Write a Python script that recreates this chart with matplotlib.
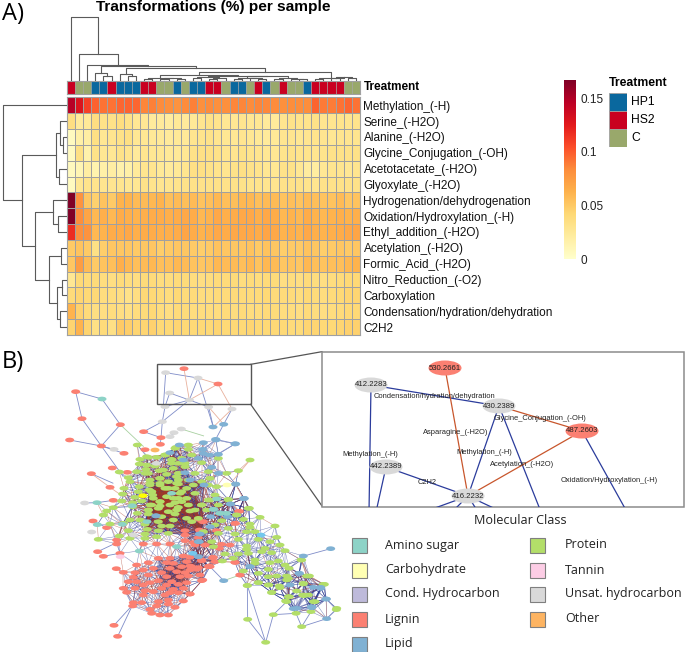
import numpy as np
import matplotlib
matplotlib.use("Agg")
import matplotlib.pyplot as plt
from matplotlib.collections import LineCollection
from matplotlib.patches import Ellipse, Rectangle

plt.rcParams['font.family'] = ['Liberation Sans', 'DejaVu Sans']

W, H = 685, 652

################## heatmap data
row_names = ["Methylation_(-H)", "Serine_(-H2O)", "Alanine_(-H2O)", "Glycine_Conjugation_(-OH)",
             "Acetotacetate_(-H2O)", "Glyoxylate_(-H2O)", "Hydrogenation/dehydrogenation",
             "Oxidation/Hydroxylation_(-H)", "Ethyl_addition_(-H2O)", "Acetylation_(-H2O)",
             "Formic_Acid_(-H2O)", "Nitro_Reduction_(-O2)", "Carboxylation",
             "Condensation/hydration/dehydration", "C2H2"]

# H = HP1, S = HS2, C = control
treatment = list("SCCHHSHHHSSCCHCHHSSCHHCSHCSCCHSSSSCC")

methylation = [.148,.130,.110,.098,.092,.092,.096,.097,.096,.086,.088,.084,.082,.080,.084,.088,.082,.084,.082,.082,.086,.086,.084,.086,.085,.084,.082,.083,.083,.083,.097,.090,.089,.092,.096,.092]
serine = [.036,.024,.025,.036,.033,.033,.037,.033,.027,.027,.023,.024,.022,.026,.024,.026,.030,.033,.031,.028,.028,.030,.027,.028,.024,.024,.030,.032,.031,.031,.033,.030,.030,.031,.030,.031]
alanine = [.006,.018,.020,.035,.028,.030,.033,.035,.027,.028,.026,.025,.024,.026,.025,.030,.031,.032,.030,.028,.027,.029,.028,.026,.024,.026,.029,.030,.028,.029,.031,.029,.028,.030,.029,.030]
glycine = [.006,.035,.016,.033,.028,.027,.032,.030,.024,.030,.028,.027,.025,.025,.028,.033,.034,.034,.033,.030,.030,.033,.031,.030,.027,.028,.031,.032,.031,.031,.030,.031,.032,.033,.032,.033]
acetotacetate = [.007,.012,.020,.015,.018,.020,.016,.018,.024,.030,.030,.026,.024,.026,.030,.034,.035,.033,.031,.030,.032,.034,.032,.031,.028,.028,.032,.033,.028,.022,.021,.027,.030,.030,.027,.030]
glyoxylate = [.006,.028,.031,.031,.030,.029,.030,.028,.028,.032,.031,.029,.030,.031,.032,.033,.032,.033,.033,.032,.032,.032,.031,.031,.030,.030,.032,.033,.032,.031,.030,.032,.032,.033,.032,.032]
hydrogenation = [.167,.080,.052,.046,.054,.050,.062,.062,.058,.058,.060,.062,.056,.058,.056,.058,.054,.056,.060,.056,.056,.060,.060,.056,.058,.058,.054,.056,.054,.058,.056,.054,.054,.058,.052,.054]
oxidation = [.167,.083,.070,.060,.064,.060,.066,.064,.062,.064,.066,.066,.064,.066,.068,.066,.060,.062,.068,.064,.066,.068,.068,.064,.068,.066,.060,.062,.060,.066,.062,.060,.062,.064,.062,.064]
ethyl = [.118,.082,.080,.060,.062,.066,.066,.068,.064,.066,.066,.064,.064,.066,.070,.066,.062,.064,.068,.066,.068,.068,.068,.066,.070,.068,.062,.064,.062,.068,.064,.062,.064,.066,.068,.070]
acetylation = [.050,.054,.050,.034,.048,.052,.052,.052,.050,.052,.052,.048,.050,.052,.052,.050,.048,.050,.054,.052,.052,.052,.054,.050,.054,.052,.048,.050,.050,.054,.052,.048,.050,.052,.050,.052]
formic = [.052,.075,.058,.050,.054,.056,.064,.060,.056,.058,.060,.056,.056,.060,.058,.054,.052,.054,.060,.058,.058,.056,.060,.054,.060,.058,.052,.054,.052,.060,.056,.054,.056,.056,.060,.062]
nitro = [.028,.042,.040,.040,.038,.036,.040,.038,.036,.040,.040,.038,.038,.040,.040,.038,.036,.038,.040,.040,.040,.038,.040,.038,.040,.040,.036,.038,.036,.040,.038,.036,.038,.040,.042,.042]
carboxylation = [.040,.044,.042,.042,.038,.038,.036,.032,.036,.042,.042,.040,.038,.042,.040,.040,.038,.038,.040,.040,.040,.040,.040,.040,.042,.040,.040,.040,.038,.042,.040,.038,.040,.042,.044,.044]
condensation = [.062,.046,.040,.036,.036,.038,.036,.034,.038,.040,.042,.038,.036,.040,.040,.038,.038,.038,.038,.040,.038,.040,.038,.038,.040,.040,.038,.038,.036,.040,.038,.036,.038,.040,.042,.042]
c2h2 = [.045,.062,.045,.034,.040,.034,.050,.048,.044,.044,.046,.042,.042,.044,.042,.042,.042,.042,.044,.042,.042,.042,.044,.042,.042,.042,.042,.040,.040,.044,.044,.042,.042,.044,.046,.046]

heat_rows = [methylation, serine, alanine, glycine, acetotacetate, glyoxylate, hydrogenation, oxidation,
             ethyl, acetylation, formic, nitro, carboxylation, condensation, c2h2]

# dendrograms: (merge height in pixels, left, right), a plain int is a leaf
row_tree = (3.3, 0, (21.7,
    (56, (60, 1, (63, 2, 3)), (59, 4, 5)),
    (34.7, (53, 6, (58, 7, 8)),
           (48.7, (60.7, 9, 10), (57, (62, 11, 12), (60, 13, 14))))))
col_tree = (17.3, 0, (54.3, 1, (65, 2, (65.7, (73.3, 3, (75.7, 4, 5)), (68.3, (74, 6, (76, 7, 8)), (72,
    (75, (77.5, (78.5, 9, 10), (78, (79, 11, 12), (79, 13, 14))),
         (75.5, (76.5, (78, 15, 16), (78, (79, 17, 18), 19)),
                (76, (77.5, (78.5, 20, 21), (78, 22, (79, 23, 24))),
                     (77.5, (78.5, 25, 26), (78.5, 27, (79, 28, 29)))))),
    (77.5, (78.5, 30, 31), (76.5, (78, 32, 33), (78, 34, 35)))))))))

treat_colors = {"H": "#0A689E", "S": "#C90020", "C": "#99A86B"}
treat_names = [("HP1", "H"), ("HS2", "S"), ("C", "C")]
cbar_ticks = [0, .05, .1, .15]
cbar_labels = ["0", "0.05", "0.1", "0.15"]
vmax = .167

################## network data, in layout units (3 per pixel), node lists read region by region
offset_a = (180, 270)
offset_b = (420, 240)
offset_c = (570, 420)
offset_low = (270, 510)

protein_a = [(232,15),(348,22),(265,52),(290,52),(315,45),(240,58),(335,58),(365,55),(238,72),(335,70),(375,70),(258,88),(298,92),(230,95),(178,96),(205,113),(265,100),(320,103),(355,100),(210,125),(300,115),(355,120),(192,145),(238,140),(270,130),(325,125),(385,120),(268,150),(300,130),(355,132),(235,155),(275,155),(315,145),(345,145),(188,162),(278,165),(365,155),(225,172),(320,170),(245,183),(185,183),(300,185),(355,175),(218,188),(275,195),(345,188),(140,213),(160,203),(218,200),(300,198),(385,195),(265,210),(325,215),(350,210),(232,220),(265,222),(305,230),(345,222),(130,225),(210,240),(240,240),(295,245),(340,240),(190,250),(255,253),(305,258),(380,235),(150,252),(205,272),(262,268),(295,272),(330,258),(178,288),(255,282),(290,290),(325,280),(115,298),(210,295),(255,295)]
protein_b = [(105,55),(145,45),(145,58),(75,75),(20,80),(155,75),(235,85),(95,90),(115,100),(20,105),(185,98),(45,108),(100,115),(135,110),(260,130),(295,122),(15,130),(70,120),(165,130),(205,125),(60,145),(110,140),(210,145),(30,150),(185,155),(110,160),(60,165),(160,165),(140,175),(30,165),(205,165),(85,175),(230,170),(35,185),(165,190),(120,190),(40,205),(100,205),(140,205),(205,210),(265,210),(60,215),(125,215),(185,225),(30,225),(90,225),(115,232),(25,240),(55,235),(150,243),(235,225),(290,255),(325,235),(330,90)]
protein_c = [(75,15),(60,30),(115,28),(35,45),(178,55),(15,60),(50,60),(140,75),(210,82),(25,85),(95,92),(160,88),(5,95),(180,102),(180,112),(255,108),(75,105),(115,115),(40,125),(170,125),(195,125),(260,142),(85,130),(135,132),(205,148),(145,148),(65,155),(240,155),(270,165),(170,168),(70,170),(225,175),(285,182),(170,178),(215,185),(175,190),(245,188),(105,192),(145,192),(130,205),(335,210),(97,213),(195,210),(195,220),(240,218),(265,213),(285,225),(297,235),(235,238),(160,243),(205,250),(350,258),(235,260),(260,258),(290,258),(290,270),(235,285),(172,287),(205,278),(270,293),(340,282),(400,283),(320,303),(245,307),(295,320),(342,317),(287,333),(375,335),(440,355)]
protein_tail = [(973,703),(933,785),(888,790),(860,755),(908,735),(868,740),(928,678),(903,630),(838,708),(806,705),(815,728),(775,698),(865,685),(910,700),(925,735),(940,755)]
protein_out = [(742,706),(820,794),(743,808),(905,830),(797,877),(1009,779)]

lignin_out = [(552,56),(654,102),(227,125),(246,206),(361,224),(431,245),(483,263),(209,270),(304,288),(435,299),(481,283),(372,310),(337,354),(274,371),(330,412),(382,367),(340,451),(279,513),(320,533),(342,826),(353,859),(716,484),(706,520),(705,637),(720,675),(628,648),(640,622),(293,605),(310,619),(349,656)]
lignin_low = [(80,60),(285,62),(80,72),(160,72),(200,72),(240,72),(310,68),(345,75),(90,100),(335,120),(205,115),(240,115),(280,108),(300,112),(335,122),(375,125),(175,128),(230,128),(250,130),(290,125),(140,135),(275,140),(355,140),(300,138),(190,145),(240,145),(160,150),(300,150),(320,148),(100,157),(135,158),(215,158),(260,155),(285,158),(130,172),(175,165),(230,170),(270,170),(295,168),(335,182),(115,185),(140,185),(180,188),(205,182),(245,185),(290,188),(160,195),(230,195),(265,193),(100,205),(135,205),(215,205),(250,208),(280,205),(110,217),(165,212),(190,215),(240,218),(265,218),(300,222),(160,225),(225,225),(130,248),(155,248),(205,245),(235,240),(280,243),(128,258),(200,258),(235,252),(180,268),(255,262),(185,280),(210,285),(235,285),(285,32),(330,32),(285,45),(380,32),(340,5)]
lignin_c = [(148,64),(135,100),(38,95),(25,88),(28,120),(25,143),(15,165),(45,165),(95,163),(120,165),(88,175),(68,203),(35,212),(135,217),(60,230),(25,233),(5,230),(38,270),(150,255),(0,312),(30,255)]

lipid_b = [(118,45),(190,38),(228,30),(285,42),(90,68),(188,58),(175,85),(208,75),(235,73),(130,90),(190,70),(215,112),(235,130),(135,128),(150,150),(192,165),(287,162),(312,205),(48,258),(222,238),(240,250),(262,260),(212,260)]
lipid_c = [(162,25),(120,42),(70,58),(90,68),(60,110),(30,132),(25,155),(25,200),(180,230),(340,198),(328,250),(300,285),(370,292),(392,292),(408,327),(320,355),(365,350)]
lipid_out = [(639,231),(671,223),(647,268),(706,281),(992,596),(671,692)]
lipid_in = [(732,446),(707,403),(692,462),(598,552),(595,620),(750,650),(598,575),(468,497),(880,776),(935,773),(980,806),(979,747),(897,670),(962,715)]

amino_nodes = [(306,147),(291,458),(292,524),(367,523),(397,467),(515,430),(441,515),(530,590),(418,603),(650,447),(680,490),(660,490),(640,478)]
unsat_nodes = [(497,68),(594,84),(509,129),(568,150),(626,171),(696,177),(495,170),(487,215),(522,248),(544,237),(510,260),(342,298),(254,459),(275,546),(469,340),(400,555)]
carbo_nodes = [(681,405)]
tannin_nodes = [(361,620)]
other_nodes = [(465,300)]
yellow_nodes = [(429,437)]
sky_nodes = [(578,610),(783,555)]

sparse_blue = [(497,68,594,84),(594,84,568,150),(509,129,568,150),(497,68,490,170),(509,129,495,170),(568,150,495,170),
               (568,150,626,171),(594,84,640,231),(568,150,487,215),(495,170,487,215),(487,215,483,263),(487,215,431,245),
               (626,171,640,231),(522,248,510,260),(227,125,306,147),(227,125,246,206),(306,147,361,224),(246,206,304,288),
               (361,224,304,288),(209,270,304,288),(304,288,342,298),(304,288,372,310),(304,288,370,380),(342,826,395,768),
               (353,859,400,760),(671,692,628,648),(742,706,743,808),(742,706,797,877),(743,808,797,877),(820,794,797,877),
               (820,794,888,790),(820,794,860,755),(742,706,720,675),(905,830,888,790),(905,830,980,806),(905,830,933,785),
               (992,596,908,619),(908,619,903,630),(1009,779,980,806),(1009,779,979,747),(696,177,671,223),(671,223,647,268),
               (431,245,483,263),(483,263,481,283),(274,371,340,400),(254,459,291,458),(291,458,340,451),(706,281,647,268),
               (647,268,610,300),(706,281,640,320),(279,513,320,533),(293,605,350,578),(310,619,358,610),(349,656,370,667)]
sparse_orange = [(594,84,654,102),(552,56,568,150),(654,102,568,150),(654,102,696,177),(696,177,640,231),(626,171,671,223),
                 (274,371,330,412),(330,412,370,440),(716,484,680,440),(750,330,700,390),(707,403,730,446)]
sparse_green = [(361,224,431,290),(544,237,612,258),(671,692,720,675)]

# the two darkest knots of links: (x0, x1, y0, y1) in layout units
knot_protein = (430, 620, 390, 560)
knot_lignin = (450, 570, 610, 720)

################## inset data, in figure pixels
inset_names = ["530.2661", "412.2283", "430.2389", "487.2603", "442.2389", "416.2232"]
inset_x = [445, 371, 499, 582, 386, 468]
inset_y = [368, 385, 406, 431, 467, 496]
inset_cols = ["#FB8072", "#D9D9D9", "#D9D9D9", "#FB8072", "#D9D9D9", "#D9D9D9"]
inset_blue = [(371,385,499,406),(499,406,468,496),(386,467,468,496),(371,385,369,512),(386,467,376,512),
              (468,496,424,512),(468,496,452,512),(468,496,478,512),(468,496,502,512),(499,406,541,512),(582,431,627,512)]
inset_red = [(499,406,582,431),(445,368,468,496),(582,431,468,496)]
edge_labels = ["Condensation/hydration/dehydration", "Glycine_Conjugation_(-OH)", "Asparagine_(-H2O)",
               "Methylation_(-H)", "Methylation_(-H)", "Acetylation_(-H2O)", "C2H2", "Oxidation/Hydroxylation_(-H)"]
edge_label_x = [434, 540, 456, 370, 484, 522, 427, 609]
edge_label_y = [396, 419, 432, 454, 452, 465, 482, 481]

class_names = ["Amino sugar", "Carbohydrate", "Cond. Hydrocarbon", "Lignin", "Lipid",
               "Protein", "Tannin", "Unsat. hydrocarbon", "Other"]
class_cols = ["#8DD3C7", "#FFFFB3", "#BEBADA", "#FB8072", "#80B1D3", "#B3DE69", "#FCCDE5", "#D9D9D9", "#FDB462"]


def px_axes(fig, x0, y0, x1, y1):
    # axes from pixel box, y measured from the top of the picture
    return fig.add_axes([x0/W, 1-y1/H, (x1-x0)/W, (y1-y0)/H])


def tree_segments(node, segs):
    # returns centre of the node and appends its lines as (centre_a, height_a, centre_b, height_b, height)
    if isinstance(node, int):
        return node + 0.5, None
    h, a, b = node
    ca, ha = tree_segments(a, segs)
    cb, hb = tree_segments(b, segs)
    segs.append((ca, ha, cb, hb, h))
    return (ca + cb)/2, h


def shift(nodes, off):
    return [(x + off[0], y + off[1]) for x, y in nodes]


def in_box(p, box):
    return box[0] < p[0] < box[1] and box[2] < p[1] < box[3]


fig = plt.figure(figsize=(W/100, H/100), dpi=100)

################## network, under everything else
ax_net = px_axes(fig, 0, 350, 350, 650)
ax_net.set_xlim(0, 1050)
ax_net.set_ylim(900, 0)
ax_net.axis('off')

protein_core = shift(protein_a, offset_a) + shift(protein_b, offset_b) + shift(protein_c, offset_c) + protein_tail
lignin_core = shift(lignin_low, offset_low) + shift(lignin_c, offset_c)
lipid_core = shift(lipid_b, offset_b) + shift(lipid_c, offset_c) + lipid_in

groups = [(lignin_core + lignin_out, "#FB8072"), (protein_core + protein_out, "#B3DE69"),
          (lipid_core + lipid_out, "#80B1D3"), (amino_nodes, "#8DD3C7"), (unsat_nodes, "#D9D9D9"),
          (carbo_nodes, "#FFFFB3"), (tannin_nodes, "#FCCDE5"), (other_nodes, "#FDB462"),
          (yellow_nodes, "#FFFF00"), (sky_nodes, "#73C8EE")]

# the links of the dense core cannot be read one by one: join each node to its close neighbours
core = np.array(protein_core + lignin_core + lipid_core + amino_nodes[1:] + sky_nodes)
blue_segs, orange_segs = [], []
count = 0
for i in range(len(core)):
    d = np.hypot(core[:, 0] - core[i, 0], core[:, 1] - core[i, 1])
    for j in np.where(d > 0)[0]:
        if j <= i:
            continue
        knot = (in_box(core[i], knot_protein) and in_box(core[j], knot_protein)) or \
               (in_box(core[i], knot_lignin) and in_box(core[j], knot_lignin))
        if d[j] < 64 or (knot and d[j] < 115):
            s = [tuple(core[i]), tuple(core[j])]
            count += 1
            # links are nearly all blue out in the tail
            every = 8 if core[i, 0] > 690 else 3
            if count % every == 0:
                orange_segs.append(s)
            else:
                blue_segs.append(s)
ax_net.add_collection(LineCollection(blue_segs, colors="#24338F", linewidths=.32, alpha=.65))
ax_net.add_collection(LineCollection(orange_segs, colors="#A83A24", linewidths=.32, alpha=.65))
ax_net.add_collection(LineCollection([[(a, b), (c, d)] for a, b, c, d in sparse_blue], colors="#7F8CC8", linewidths=.6))
ax_net.add_collection(LineCollection([[(a, b), (c, d)] for a, b, c, d in sparse_orange], colors="#E8B09C", linewidths=.6))
ax_net.add_collection(LineCollection([[(a, b), (c, d)] for a, b, c, d in sparse_green], colors="#A8D0A0", linewidths=.6))
for nodes, col in groups:
    for x, y in nodes:
        ax_net.add_patch(Ellipse((x, y), 27, 14, facecolor=col, edgecolor='none', zorder=3))
ax_net.add_patch(Rectangle((470, 43), 282, 120, fill=False, edgecolor="#555555", lw=1, zorder=4))
ax_net.plot([752, 966], [43, 5], color="#555555", lw=.9, zorder=4, clip_on=False)
ax_net.plot([752, 966], [163, 468], color="#555555", lw=.9, zorder=4, clip_on=False)

################## heatmap
ax_h = px_axes(fig, 66.7, 97.3, 360, 335)
ax_h.pcolormesh(np.array(heat_rows), cmap='YlOrRd', vmin=0, vmax=vmax, edgecolors="#A0A0A0", linewidth=.5)
ax_h.set_ylim(15, 0)
ax_h.set_xticks([])
ax_h.yaxis.tick_right()
ax_h.set_yticks(np.arange(15) + .5)
ax_h.set_yticklabels(row_names, fontsize=8.5, color="#111111")
ax_h.tick_params(axis='y', length=0, pad=2.5)
for s in ax_h.spines.values():
    s.set_color("#A0A0A0")

ax_s = px_axes(fig, 66.7, 81, 360, 93.7)
ax_s.set_xlim(0, 36)
ax_s.set_ylim(0, 1)
ax_s.bar(np.arange(36) + .5, 1, width=1, color=[treat_colors[t] for t in treatment], edgecolor="#A0A0A0", linewidth=.4)
ax_s.set_xticks([])
ax_s.set_yticks([])
for s in ax_s.spines.values():
    s.set_color("#A0A0A0")
ax_s.text(1.012, .5, "Treatment", transform=ax_s.transAxes, fontsize=8.5, fontweight='bold', va='center')

# column dendrogram
ax_top = px_axes(fig, 66.7, 0, 360, 81)
ax_top.set_xlim(0, 36)
ax_top.set_ylim(81, 0)
ax_top.axis('off')
segs = []
tree_segments(col_tree, segs)
for ca, ha, cb, hb, h in segs:
    ax_top.plot([ca, ca, cb, cb], [81 if ha is None else ha, h, h, 81 if hb is None else hb], color="#5A5A5A", lw=.8)

# row dendrogram
ax_left = px_axes(fig, 0, 97.3, 66.7, 335)
ax_left.set_xlim(0, 66.7)
ax_left.set_ylim(15, 0)
ax_left.axis('off')
segs = []
tree_segments(row_tree, segs)
for ca, ha, cb, hb, h in segs:
    ax_left.plot([66.7 if ha is None else ha, h, h, 66.7 if hb is None else hb], [ca, ca, cb, cb], color="#5A5A5A", lw=.8)

# colour bar
ax_c = px_axes(fig, 563.5, 80, 575.5, 259)
grad = np.linspace(vmax, 0, 256).reshape(-1, 1)
ax_c.imshow(grad, cmap='YlOrRd', vmin=0, vmax=vmax, aspect='auto', extent=[0, 1, 0, vmax])
ax_c.set_xticks([])
ax_c.yaxis.tick_right()
ax_c.set_yticks(cbar_ticks)
ax_c.set_yticklabels(cbar_labels, fontsize=8.5, color="#222222")
ax_c.tick_params(axis='y', length=0, pad=3.5)
for s in ax_c.spines.values():
    s.set_visible(False)

# treatment key
ax_k = px_axes(fig, 609, 93, 626.5, 147)
ax_k.set_xlim(0, 1)
ax_k.set_ylim(3, 0)
for i, (name, key) in enumerate(treat_names):
    ax_k.bar(.5, 1, width=1, bottom=i, color=treat_colors[key], edgecolor="#A0A0A0", linewidth=.6)
    ax_k.text(1.25, i + .5, name, fontsize=8.7, va='center')
ax_k.axis('off')
ax_k.text(0, -.2, "Treatment", fontsize=8.8, fontweight='bold', va='bottom')

################## inset and key, on one axes in figure pixels
ax_p = fig.add_axes([0, 0, 1, 1], zorder=5)
ax_p.set_xlim(0, W)
ax_p.set_ylim(H, 0)
ax_p.axis('off')
ax_p.patch.set_alpha(0)
ax_p.text(2, 14, "A)", fontsize=17, va='center', fontfamily=['Open Sans'])
ax_p.text(2, 362, "B)", fontsize=17, va='center', fontfamily=['Open Sans'])
ax_p.text(213, 6.5, "Transformations (%) per sample", fontsize=11.1, fontweight='bold', ha='center', va='center')

ax_p.add_patch(Rectangle((322, 352), 362, 155, facecolor='white', edgecolor="#8C8C8C", lw=1.1, zorder=1))
clip = Rectangle((322, 352), 362, 155, transform=ax_p.transData)
lc = LineCollection([[(a, b), (c, d)] for a, b, c, d in inset_blue], colors="#2B3C9C", linewidths=.9, zorder=2)
ax_p.add_collection(lc)
lc.set_clip_path(clip)
lc = LineCollection([[(a, b), (c, d)] for a, b, c, d in inset_red], colors="#C8562C", linewidths=.9, zorder=2)
ax_p.add_collection(lc)
lc.set_clip_path(clip)
for name, x, y, col in zip(inset_names, inset_x, inset_y, inset_cols):
    ax_p.add_patch(Ellipse((x, y), 33, 15, facecolor=col, edgecolor='none', zorder=3))
    ax_p.text(x, y, name, fontsize=5.6, ha='center', va='center', color="#222222", zorder=4)
for name, x, y in zip(edge_labels, edge_label_x, edge_label_y):
    ax_p.text(x, y, name, fontsize=5.4, ha='center', va='center', color="#222222", zorder=4)

ax_p.text(520, 521, "Molecular Class", fontsize=9.1, ha='center', va='center', fontfamily=['Open Sans'], color="#222222")
key_y = [545, 570, 594, 619, 644]
for i, (name, col) in enumerate(zip(class_names, class_cols)):
    k = i if i < 5 else i - 5
    kx = 352 if i < 5 else 530
    ax_p.add_patch(Rectangle((kx, key_y[k] - 7.5), 15, 15, facecolor=col, edgecolor="#7F7F7F", lw=.8))
    ax_p.text(kx + (33 if i < 5 else 35), key_y[k], name, fontsize=9, va='center',
              fontfamily=['Open Sans'], color="#222222")

fig.savefig("out.png", dpi=100)
